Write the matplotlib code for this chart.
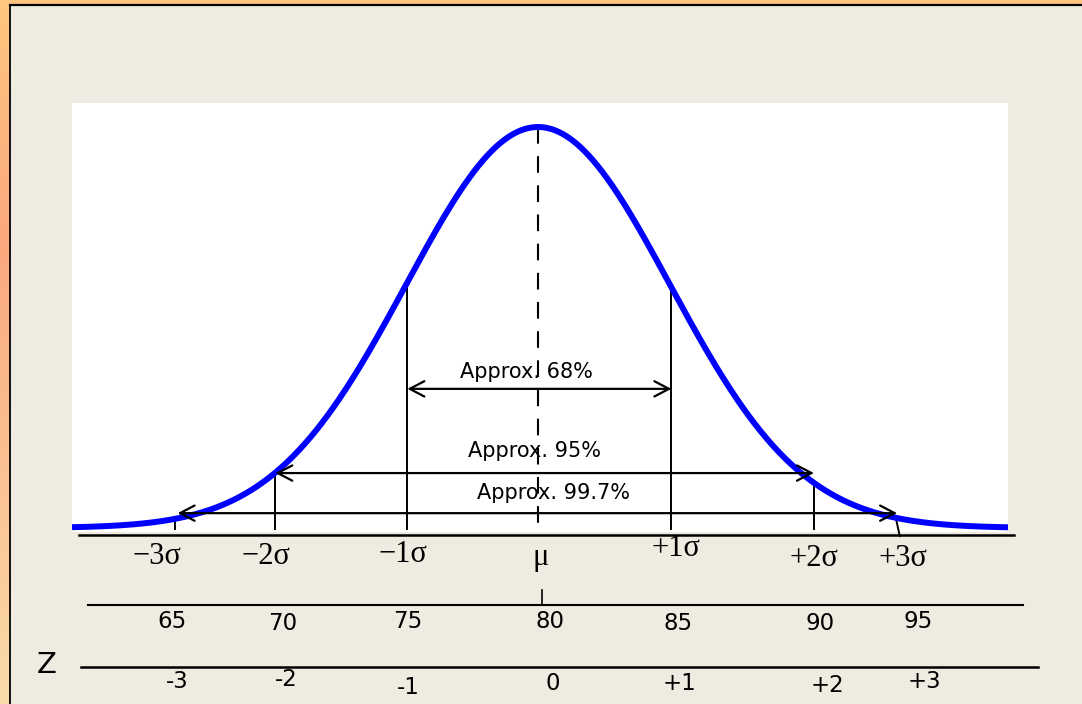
import numpy as np
import matplotlib

matplotlib.use("Agg")
import matplotlib.pyplot as plt
from matplotlib.patches import Rectangle

# ---------------------------------------------------------------------------
# Data
# ---------------------------------------------------------------------------
MEAN = 80.0
SD = 5.0

SIGMA_LABELS = ["\u22123\u03c3", "\u22122\u03c3", "\u22121\u03c3", "\u03bc", "+1\u03c3", "+2\u03c3", "+3\u03c3"]
# where each guide line stands on the score scale
SIGMA_MARKS = [66.25, 70.05, 75.05, 80.0, 85.05, 90.45, 93.65]
SCORES = [65, 70, 75, 80, 85, 90, 95]
Z_LABELS = ["-3", "-2", "-1", "0", "+1", "+2", "+3"]

BAND_LABELS = ["Approx. 68%", "Approx. 95%", "Approx. 99.7%"]
BAND_SPANS = [(75.05, 85.05), (70.05, 90.45), (66.35, 93.6)]

# ---------------------------------------------------------------------------
# Layout (pixels of a 1082 x 704 canvas)
# ---------------------------------------------------------------------------
W, H = 1082, 704
PX_PER_UNIT = 26.4
X_LEFT, X_RIGHT = 62.35, 97.8

BAND_LEVEL = [0.347, 0.137, 0.037]          # arrow height, fraction of peak
BAND_TEXT = [(79.55, 0.389), (79.85, 0.192), (80.57, 0.087)]

SIGMA_TEXT_X = [65.57, 69.70, 74.89, 80.11, 85.23, 90.45, 93.83]
SIGMA_TEXT_Y = [556, 556, 554, 557, 548, 558, 558]
SCORE_TEXT_X = [66.14, 70.34, 75.08, 80.45, 85.30, 90.68, 94.39]
SCORE_TEXT_Y = [622, 624, 621, 621, 623, 623, 621]
Z_TEXT_X = [66.33, 70.45, 75.08, 80.57, 85.34, 90.98, 94.62]
Z_TEXT_Y = [682, 680, 687, 684, 684, 686, 682]

BEIGE = "#EFEBE0"
ORANGE = "#FFC57E"


def pdf(x):
    return np.exp(-0.5 * ((x - MEAN) / SD) ** 2) / (SD * np.sqrt(2 * np.pi))


peak = pdf(MEAN)
k = peak / 401.0  # density per pixel

fig = plt.figure(figsize=(W / 100, H / 100), dpi=100, facecolor=ORANGE)

# ---------------------------------------------------------------------------
# Slide background
# ---------------------------------------------------------------------------
bg = fig.add_axes([0, 0, 1, 1])
bg.set_xlim(0, W)
bg.set_ylim(H, 0)
bg.axis("off")

rows = np.arange(H)
stops_y = [0, 240, H]
grad = np.stack([
    np.interp(rows, stops_y, [255, 250, 251]),
    np.interp(rows, stops_y, [199, 168, 219]),
    np.interp(rows, stops_y, [127, 125, 170]),
], axis=-1)[:, None, :] / 255.0
bg.imshow(grad, extent=[0, 10, H, 0], aspect="auto", zorder=0)
bg.add_patch(Rectangle((10, 5), W - 10, H - 5, facecolor=BEIGE, edgecolor="none", zorder=1))
bg.plot([10, W], [5, 5], color="black", lw=1.6, zorder=2)
bg.plot([10, 10], [5, H], color="black", lw=1.3, zorder=2)

# ---------------------------------------------------------------------------
# Curve panel
# ---------------------------------------------------------------------------
ax = fig.add_axes([72 / W, 1 - 532 / H, 936 / W, 429 / H])
ax.set_facecolor("white")
ax.set_xlim(X_LEFT, X_RIGHT)
ax.set_ylim(-4 * k, peak + 24 * k)
for s in ax.spines.values():
    s.set_visible(False)
ax.set_xticks([])
ax.set_yticks([])

x = np.linspace(X_LEFT, X_RIGHT, 800)
ax.plot(x, pdf(x), color="#0000FF", lw=4.3, solid_capstyle="butt", zorder=3)

# guide lines from the curve down to the baseline
for i, m in enumerate(SIGMA_MARKS):
    if SIGMA_LABELS[i] == "\u03bc":
        ax.plot([m, m], [peak, -2 * k], color="black", lw=1.5,
                dashes=(8, 6), zorder=2, clip_on=False)
    elif i == len(SIGMA_MARKS) - 1:
        ax.plot([m - 0.1, m + 0.05], [pdf(m - 0.1), -8 * k], color="black",
                lw=1.4, zorder=2, clip_on=False)
    else:
        ax.plot([m, m], [pdf(m), -1 * k], color="black", lw=1.4, zorder=2,
                clip_on=False)

# coverage arrows
for (x0, x1), lvl, lab, (tx, ty) in zip(BAND_SPANS, BAND_LEVEL, BAND_LABELS, BAND_TEXT):
    ax.annotate("", xy=(x1, lvl * peak), xytext=(x0, lvl * peak),
                arrowprops=dict(arrowstyle="<->,head_length=1.05,head_width=0.55",
                                lw=1.6, color="black", shrinkA=0, shrinkB=0),
                zorder=4)
    ax.text(tx, ty * peak, lab, ha="center", va="center", fontsize=15,
            family="DejaVu Sans", color="black", zorder=1)

# ---------------------------------------------------------------------------
# Scale strip below the curve
# ---------------------------------------------------------------------------
sx = fig.add_axes([72 / W, 0, 936 / W, 172 / H])
sx.set_xlim(X_LEFT, X_RIGHT)
sx.set_ylim(H, 532)
sx.axis("off")

sx.plot([62.61, 98.03], [535, 535], color="black", lw=1.8, clip_on=False)
sx.plot([62.95, 98.37], [605, 605], color="black", lw=1.5, clip_on=False)
sx.plot([62.69, 98.94], [667, 667], color="black", lw=1.8, clip_on=False)
sx.plot([80.15, 80.15], [590, 605], color="black", lw=1.2, clip_on=False)

for lab, tx, ty in zip(SIGMA_LABELS, SIGMA_TEXT_X, SIGMA_TEXT_Y):
    sx.text(tx, ty, lab, ha="center", va="center", fontsize=22,
            family="Liberation Serif", color="black", clip_on=False)

for val, tx, ty in zip(SCORES, SCORE_TEXT_X, SCORE_TEXT_Y):
    sx.text(tx, ty, str(val), ha="center", va="center", fontsize=16.5,
            family="DejaVu Sans", color="black", clip_on=False)

for lab, tx, ty in zip(Z_LABELS, Z_TEXT_X, Z_TEXT_Y):
    sx.text(tx, ty, lab, ha="center", va="center", fontsize=16.5,
            family="DejaVu Sans", color="black", clip_on=False)

bg.text(47, 665, "Z", ha="center", va="center", fontsize=21,
        family="DejaVu Sans", color="black", zorder=3)

fig.savefig("out.png", dpi=100, facecolor=fig.get_facecolor())
